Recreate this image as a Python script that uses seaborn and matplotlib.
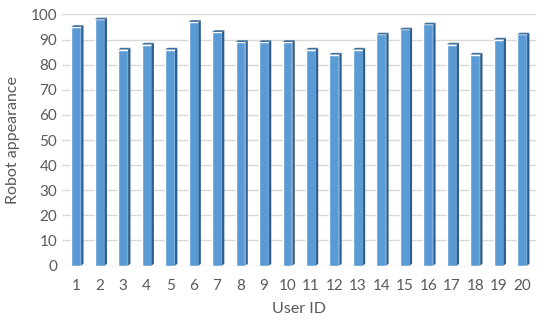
import matplotlib
matplotlib.use("Agg")
import matplotlib.pyplot as plt
from matplotlib.patches import Polygon
import seaborn as sns
import pandas as pd

# data
user_ids = [str(i) for i in range(1, 21)]
appearance = [95, 98, 86, 88, 86, 97, 93, 89, 89, 89,
              86, 84, 86, 92, 94, 96, 88, 84, 90, 92]

df = pd.DataFrame({"User ID": user_ids, "Robot appearance": appearance})

sns.set_style("white")
plt.rcParams["font.family"] = ["Lato", "DejaVu Sans"]

fig = plt.figure(figsize=(5.5, 3.2), dpi=100)
ax = fig.add_axes([0.113, 0.17, 0.862, 0.785])

sns.barplot(data=df, x="User ID", y="Robot appearance", color="#5B9BD5",
            saturation=1, width=0.42, ax=ax, zorder=3)

# fake the 3d side / top faces from the bar patches
dx, dy = 0.1, 0.7
for p in ax.patches:
    x0, w, h = p.get_x(), p.get_width(), p.get_height()
    side = Polygon([(x0 + w, 0), (x0 + w + dx, dy), (x0 + w + dx, h + dy), (x0 + w, h)],
                   closed=True, facecolor="#2E5F8E", edgecolor="none", zorder=3)
    top = Polygon([(x0, h), (x0 + w, h), (x0 + w + dx, h + dy), (x0 + dx, h + dy)],
                  closed=True, facecolor="#41719C", edgecolor="none", zorder=3)
    ax.add_patch(side)
    ax.add_patch(top)

ax.set_ylim(0, 100)
ax.set_xlim(-0.6, 19.6)
ax.set_yticks(range(0, 101, 10))
ax.yaxis.grid(True, color="#D9D9D9", linewidth=1, zorder=0)
for s in ax.spines.values():
    s.set_visible(False)
ax.tick_params(axis="both", colors="#595959", labelsize=11, length=0)
ax.tick_params(axis="x", pad=10)
ax.set_xlabel("User ID", fontsize=11.5, color="#595959", labelpad=6)
ax.set_ylabel("Robot appearance", fontsize=11.5, color="#595959", labelpad=8)

fig.savefig("out.png", dpi=100)
